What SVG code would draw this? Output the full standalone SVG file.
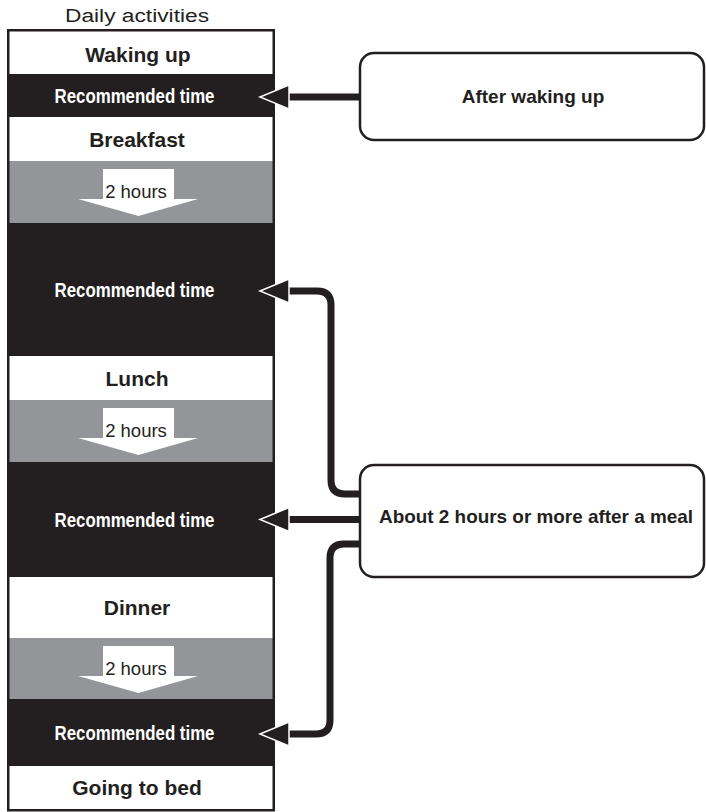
<svg xmlns="http://www.w3.org/2000/svg" xmlns:xlink="http://www.w3.org/1999/xlink" width="706" height="812" viewBox="0 0 706 812">
<style>
text{font-family:"Liberation Sans",Arial,sans-serif;text-anchor:middle;fill:#231f20}
.lbl{font-size:21px;font-weight:bold}
.rec{font-size:20px;font-weight:bold;fill:#ffffff}
.hrs{font-size:18.5px}
.w{fill:#ffffff}
.k{fill:#231f20}
.g{fill:#939598}
.arr{fill:#ffffff}
.box{fill:#ffffff;stroke:#231f20;stroke-width:2.5}
.con{fill:none;stroke:#231f20;stroke-width:7}
.ah{fill:#231f20;stroke:#ffffff;stroke-width:1.5;stroke-linejoin:miter}
.nt{font-size:19px;font-weight:bold}
</style>
<defs>
<polygon id="ah" class="ah" points="0,0 29,-12 29,12"/>
<polygon id="dn" class="arr" points="103,8 174,8 174,38 198,38 138.5,55 78,38 103,38"/>
</defs>
<text x="137" y="22" style="font-size:18px" textLength="144" lengthAdjust="spacingAndGlyphs">Daily activities</text>
<g id="timeline">
<rect class="w" x="9" y="30" width="264" height="44"/>
<rect class="k" x="9" y="74" width="264" height="43"/>
<rect class="w" x="9" y="117" width="264" height="44"/>
<rect class="g" x="9" y="161" width="264" height="62"/>
<rect class="k" x="9" y="223" width="264" height="133"/>
<rect class="w" x="9" y="356" width="264" height="44"/>
<rect class="g" x="9" y="400" width="264" height="62"/>
<rect class="k" x="9" y="462" width="264" height="115"/>
<rect class="w" x="9" y="577" width="264" height="61"/>
<rect class="g" x="9" y="638" width="264" height="61"/>
<rect class="k" x="9" y="699" width="264" height="67"/>
<rect class="w" x="9" y="766" width="264" height="45"/>
<rect x="8.25" y="30.25" width="265.5" height="780" fill="none" stroke="#231f20" stroke-width="2.5"/>
</g>
<g id="waking-up"><text class="lbl" x="138" y="62">Waking up</text></g>
<g id="rec1"><text class="rec" x="134.5" y="102.5" textLength="160" lengthAdjust="spacingAndGlyphs">Recommended time</text></g>
<g id="breakfast"><text class="lbl" x="137" y="147">Breakfast</text></g>
<g id="gap1"><use href="#dn" xlink:href="#dn" y="161"/><text class="hrs" x="136" y="198">2 hours</text></g>
<g id="rec2"><text class="rec" x="134.5" y="296.5" textLength="160" lengthAdjust="spacingAndGlyphs">Recommended time</text></g>
<g id="lunch"><text class="lbl" x="137" y="386">Lunch</text></g>
<g id="gap2"><use href="#dn" xlink:href="#dn" y="400"/><text class="hrs" x="136" y="437">2 hours</text></g>
<g id="rec3"><text class="rec" x="134.5" y="526.5" textLength="160" lengthAdjust="spacingAndGlyphs">Recommended time</text></g>
<g id="dinner"><text class="lbl" x="137" y="615">Dinner</text></g>
<g id="gap3"><use href="#dn" xlink:href="#dn" y="638"/><text class="hrs" x="136" y="675">2 hours</text></g>
<g id="rec4"><text class="rec" x="134.5" y="739.5" textLength="160" lengthAdjust="spacingAndGlyphs">Recommended time</text></g>
<g id="going-to-bed"><text class="lbl" x="137" y="795">Going to bed</text></g>
<g id="connectors">
<path class="con" d="M360,97 H286"/>
<path class="con" d="M360,494 H345 Q331,494 331,480 V305 Q331,291 317,291 H286"/>
<path class="con" d="M360,519.5 H286"/>
<path class="con" d="M360,544 H344 Q330,544 330,558 V720 Q330,734 316,734 H286"/>
<use href="#ah" xlink:href="#ah" x="260" y="97"/>
<use href="#ah" xlink:href="#ah" x="260" y="291"/>
<use href="#ah" xlink:href="#ah" x="260" y="519.5"/>
<use href="#ah" xlink:href="#ah" x="260" y="734"/>
</g>
<g id="after-waking-up"><rect class="box" x="360" y="53" width="344" height="87" rx="14"/><text class="nt" x="533" y="103">After waking up</text></g>
<g id="after-meal"><rect class="box" x="360" y="465" width="344" height="112" rx="14"/><text class="nt" x="536" y="523" textLength="314" lengthAdjust="spacingAndGlyphs">About 2 hours or more after a meal</text></g>
</svg>
